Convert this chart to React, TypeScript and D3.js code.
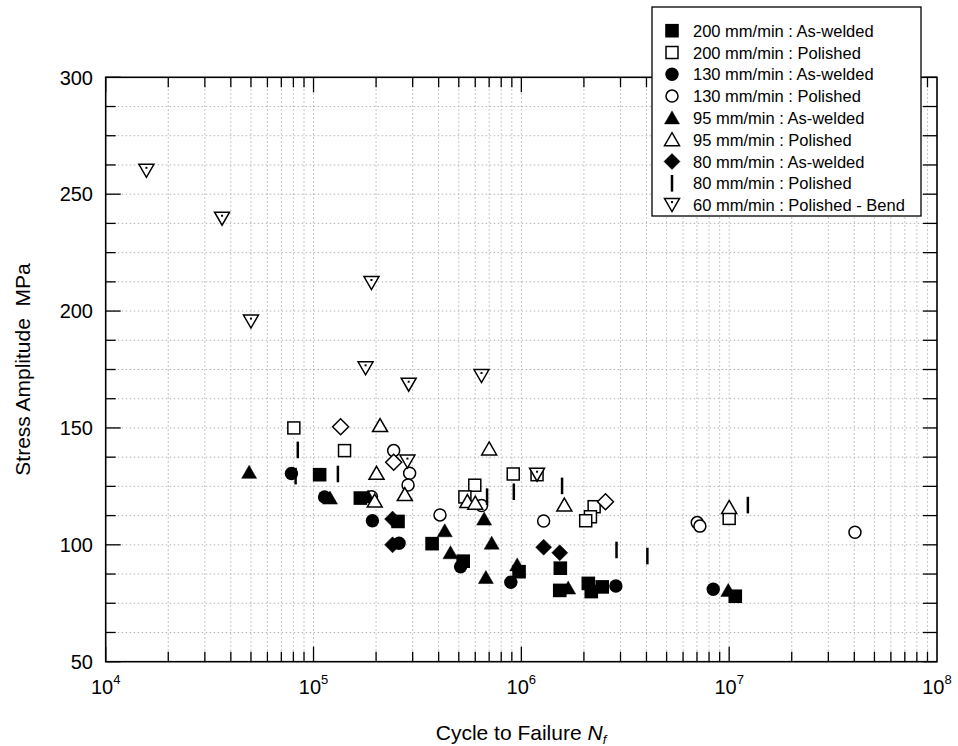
import * as d3 from "d3"

// [cycles, stress MPa]
const sq200Welded = [[1.07e5, 130], [1.68e5, 120], [2.55e5, 110], [3.72e5, 100.5], [5.25e5, 93], [9.75e5, 88.5], [1.54e6, 90], [1.53e6, 80.5], [2.1e6, 83.5], [2.17e6, 80], [2.45e6, 82], [1.07e7, 78]]
const sq200Polished = [[8.04e4, 150], [1.41e5, 140.3], [5.97e5, 125.5], [5.35e5, 120.5], [9.14e5, 130.3], [1.19e6, 130], [2.24e6, 116.3], [2.15e6, 112], [2.04e6, 110.3], [1.0e7, 111.3]]
const ci130Welded = [[7.83e4, 130.5], [1.13e5, 120.5], [1.92e5, 110.3], [2.58e5, 100.7], [5.1e5, 90.6], [8.9e5, 84], [2.85e6, 82.4], [8.38e6, 81]]
const ci130Polished = [[2.43e5, 140.3], [2.9e5, 130.6], [2.85e5, 125.6], [1.9e5, 120.6], [4.06e5, 112.8], [6.43e5, 116.8], [1.28e6, 110.2], [7.02e6, 109.5], [7.23e6, 108], [4.03e7, 105.4]]
const tri95Welded = [[4.9e4, 131], [1.2e5, 120], [1.83e5, 120.5], [4.28e5, 106], [6.62e5, 111], [7.2e5, 100.7], [4.56e5, 96.6], [6.75e5, 86], [9.55e5, 91.4], [1.68e6, 81.5], [9.9e6, 80.5]]
const tri95Polished = [[2.09e5, 151], [2.01e5, 130.6], [1.97e5, 118.7], [2.75e5, 121.5], [7.0e5, 141], [5.5e5, 118.5], [6.0e5, 117.8], [1.61e6, 117], [1.0e7, 116]]
const dia80Welded = [[2.4e5, 111], [2.4e5, 100], [1.28e6, 99], [1.53e6, 96.6]]
const bar80Polished = [[8.4e4, 140.6], [8.2e4, 129.4], [1.31e5, 130.3], [6.84e5, 120.6], [9.2e5, 122.7], [1.57e6, 125.2], [2.87e6, 97.8], [4.04e6, 95.2], [1.23e7, 117]]
const dia80Open = [[1.35e5, 150.5], [2.43e5, 135.3], [2.54e6, 118.4]]
const tri60Bend = [[1.57e4, 260], [3.63e4, 239.5], [5.0e4, 195.5], [1.78e5, 175.5], [1.9e5, 212], [2.87e5, 168.5], [6.43e5, 172.2], [2.83e5, 135.6], [1.19e6, 130]]

const legendLabels = [
	"200 mm/min : As-welded",
	"200 mm/min : Polished",
	"130 mm/min : As-welded",
	"130 mm/min : Polished",
	"95 mm/min : As-welded",
	"95 mm/min : Polished",
	"80 mm/min : As-welded",
	"80 mm/min : Polished",
	"60 mm/min : Polished - Bend",
]
const legendSymbols = ["sqF", "sqO", "ciF", "ciO", "trF", "trO", "diF", "bar", "tdO"]

const xDecades = [1e4, 1e5, 1e6, 1e7, 1e8]
const xExponents = ["4", "5", "6", "7", "8"]
const yTickValues = [50, 100, 150, 200, 250, 300]

const font = '"Liberation Sans", Arial, sans-serif'

// draw order: open marks under the filled ones, except triangles/bend on top
const layers = [
	{ data: ci130Polished, sym: "ciO" },
	{ data: sq200Polished, sym: "sqO" },
	{ data: dia80Open, sym: "diO" },
	{ data: sq200Welded, sym: "sqF" },
	{ data: ci130Welded, sym: "ciF" },
	{ data: tri95Welded, sym: "trF" },
	{ data: tri95Polished, sym: "trO" },
	{ data: dia80Welded, sym: "diF" },
	{ data: bar80Polished, sym: "bar" },
	{ data: tri60Bend, sym: "tdO" },
]

function Marker({ sym, x, y }) {
	const t = `translate(${x},${y})`
	const fill = sym.endsWith("F") ? "#000" : "#fff"
	const sw = 1.5
	if (sym === "sqF") return <rect transform={t} x={-6.8} y={-6.8} width={13.6} height={13.6} fill="#000" />
	if (sym === "sqO") return <rect transform={t} x={-6} y={-6} width={12} height={12} fill="#fff" stroke="#000" strokeWidth={sw} />
	if (sym === "ciF") return <circle transform={t} r={6.7} fill="#000" />
	if (sym === "ciO") return <circle transform={t} r={6} fill="#fff" stroke="#000" strokeWidth={sw} />
	if (sym === "trF" || sym === "trO")
		return <path transform={t} d="M0,-7L7.5,6L-7.5,6Z" fill={fill} stroke="#000" strokeWidth={sym === "trO" ? sw : 0.5} strokeLinejoin="miter" />
	if (sym === "diF" || sym === "diO")
		return <path transform={t} d="M0,-8L8,0L0,8L-8,0Z" fill={fill} stroke="#000" strokeWidth={sym === "diO" ? sw : 0.5} />
	if (sym === "bar") return <line transform={t} x1={0} x2={0} y1={-8.3} y2={8.3} stroke="#000" strokeWidth={2.5} />
	// triangle down with the little centre dot
	return (
		<g transform={t}>
			<path d="M-7.5,-6.5L7.5,-6.5L0,6.5Z" fill="#fff" stroke="#000" strokeWidth={sw} strokeLinejoin="miter" />
			<rect x={-1} y={-4} width={2} height={2} fill="#000" />
		</g>
	)
}

export default function App() {
	const margin = { top: 77.3, left: 105.7, right: 937, bottom: 661.7 }

	const x = d3.scaleLog().domain([1e4, 1e8]).range([margin.left, margin.right])
	const y = d3.scaleLinear().domain([50, 300]).range([margin.bottom, margin.top])

	// minor x positions 1..9 per decade
	const xMinor = []
	for (let d = 4; d < 8; d++) for (let k = 1; k <= 9; k++) xMinor.push(k * Math.pow(10, d))
	const yMinor = d3.range(50, 300.1, 12.5)

	const gridX = xMinor.filter(v => v > 1e4)
	const gridY = yMinor.filter(v => v > 50 && v < 300)

	const legendTop = 30.7
	const legendStep = 21.8

	return (
		<svg width={958} height={746} style={{ position: "absolute", left: 0, top: 0, background: "#fff" }} fontFamily={font}>
			<rect width={958} height={746} fill="#fff" />

			{/* grid */}
			<g stroke="#b4b4b4" strokeWidth={1} strokeDasharray="1.5,2.5">
				{gridX.map((v, i) => (
					<line key={"gx" + i} x1={x(v)} x2={x(v)} y1={margin.top} y2={margin.bottom} />
				))}
				{gridY.map((v, i) => (
					<line key={"gy" + i} x1={margin.left} x2={margin.right} y1={y(v)} y2={y(v)} />
				))}
			</g>

			{/* ticks, all four sides, pointing in */}
			<g stroke="#000" strokeWidth={1.3}>
				{xMinor.map((v, i) => {
					const major = xDecades.includes(v)
					const len = major ? 15 : 10
					return (
						<g key={"tx" + i}>
							<line x1={x(v)} x2={x(v)} y1={margin.bottom} y2={margin.bottom - len} />
							<line x1={x(v)} x2={x(v)} y1={margin.top} y2={margin.top + len} />
						</g>
					)
				})}
				{yMinor.map((v, i) => {
					const major = v % 50 === 0
					return (
						<g key={"ty" + i}>
							<line x1={margin.left} x2={margin.left + (major ? 15 : 10)} y1={y(v)} y2={y(v)} />
							<line x1={margin.right} x2={margin.right - 14} y1={y(v)} y2={y(v)} />
						</g>
					)
				})}
			</g>

			{/* frame */}
			<rect x={margin.left} y={margin.top} width={margin.right - margin.left} height={margin.bottom - margin.top} fill="none" stroke="#000" strokeWidth={1.6} />

			{/* data */}
			{layers.map((l, li) => (
				<g key={"l" + li}>
					{l.data.map((d, i) => (
						<Marker key={i} sym={l.sym} x={x(d[0])} y={y(d[1])} />
					))}
				</g>
			))}

			{/* y tick labels */}
			{yTickValues.map(v => (
				<text key={"yl" + v} x={93} y={y(v)} dy="0.36em" textAnchor="end" fontSize={20}>{v}</text>
			))}

			{/* x tick labels 10^n */}
			{xDecades.map((v, i) => (
				<text key={"xl" + i} x={x(v)} y={694} textAnchor="middle" fontSize={20}>
					10<tspan fontSize={13} dy={-10}>{xExponents[i]}</tspan>
				</text>
			))}

			{/* axis titles */}
			<text x={521} y={740} textAnchor="middle" fontSize={21}>
				Cycle to Failure <tspan fontStyle="italic">N</tspan>
				<tspan fontStyle="italic" fontSize={13} dy={4}>f</tspan>
			</text>
			<text transform={`translate(30,${(margin.top + margin.bottom) / 2}) rotate(-90)`} textAnchor="middle" fontSize={21} style={{ whiteSpace: "pre" }}>
				{"Stress Amplitude  MPa"}
			</text>

			{/* legend */}
			<g>
				<rect x={652} y={7} width={269} height={209} fill="#fff" stroke="#000" strokeWidth={1.3} />
				{legendLabels.map((label, i) => (
					<g key={"lg" + i}>
						<Marker sym={legendSymbols[i]} x={672} y={legendTop + i * legendStep} />
						<text x={693} y={legendTop + i * legendStep + 6} fontSize={16.5}>{label}</text>
					</g>
				))}
			</g>
		</svg>
	)
}
